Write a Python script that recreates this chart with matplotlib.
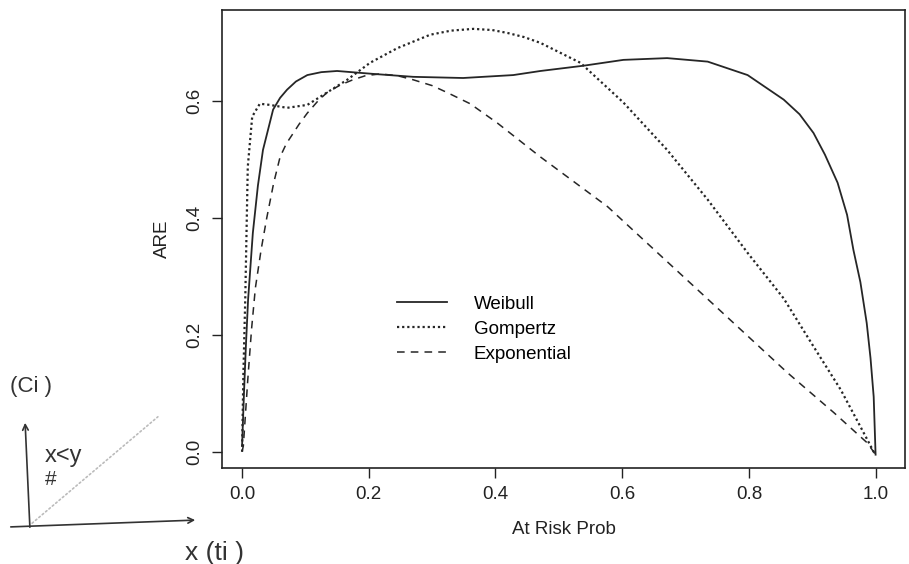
import matplotlib
matplotlib.use('Agg')
import matplotlib.pyplot as plt

plt.rcParams['font.family'] = ['Liberation Sans', 'DejaVu Sans']

# values
weibull_x = [0.0, 0.003, 0.006, 0.0095, 0.017, 0.025, 0.033, 0.049, 0.06, 0.071, 0.085, 0.103,
             0.125, 0.15, 0.207, 0.27, 0.349, 0.428, 0.471, 0.539, 0.602, 0.671, 0.735, 0.798,
             0.855, 0.88, 0.902, 0.92, 0.94, 0.955, 0.965, 0.976, 0.986, 0.992, 0.997, 1.0]
weibull_y = [0.01, 0.10, 0.18, 0.26, 0.374, 0.455, 0.516, 0.585, 0.605, 0.619, 0.633, 0.644,
             0.649, 0.651, 0.646, 0.641, 0.639, 0.644, 0.651, 0.660, 0.670, 0.673, 0.667, 0.644,
             0.602, 0.577, 0.545, 0.508, 0.46, 0.405, 0.345, 0.29, 0.22, 0.16, 0.094, -0.005]

gompertz_x = [0.0, 0.002, 0.005, 0.009, 0.016, 0.028, 0.044, 0.071, 0.103, 0.128, 0.166, 0.202,
              0.245, 0.297, 0.33, 0.365, 0.395, 0.419, 0.445, 0.471, 0.534, 0.602, 0.671, 0.735,
              0.798, 0.855, 0.902, 0.945, 0.976, 0.997, 1.0]
gompertz_y = [0.0, 0.13, 0.26, 0.487, 0.573, 0.595, 0.593, 0.588, 0.593, 0.61, 0.636, 0.665,
              0.69, 0.713, 0.720, 0.723, 0.721, 0.716, 0.709, 0.699, 0.665, 0.597, 0.516, 0.431,
              0.340, 0.262, 0.18, 0.106, 0.043, 0.0, -0.005]

expo_x = [0.0, 0.002, 0.009, 0.015, 0.021, 0.03, 0.039, 0.05, 0.06, 0.07, 0.081, 0.09, 0.103,
          0.12, 0.134, 0.155, 0.175, 0.195, 0.218, 0.245, 0.27, 0.3, 0.324, 0.36, 0.403, 0.471,
          0.577, 0.656, 0.724, 0.787, 0.861, 0.934, 0.987, 1.0]
expo_y = [0.0, 0.01, 0.123, 0.21, 0.28, 0.345, 0.40, 0.46, 0.504, 0.527, 0.545, 0.56, 0.579,
          0.60, 0.614, 0.627, 0.636, 0.643, 0.646, 0.643, 0.636, 0.626, 0.614, 0.595, 0.562, 0.504,
          0.419, 0.34, 0.272, 0.209, 0.135, 0.067, 0.015, -0.005]

labels = ['Weibull', 'Gompertz', 'Exponential']
xticks = [0.0, 0.2, 0.4, 0.6, 0.8, 1.0]
yticks = [0.0, 0.2, 0.4, 0.6]

line_col = '#262626'
H = 564  # figure height in pixels, for the margin notes

fig = plt.figure(figsize=(9.09, 5.64), dpi=100)
ax = fig.add_axes([0.244, 0.170, 0.752, 0.812])

ax.plot(weibull_x, weibull_y, color=line_col, lw=1.3, ls='-', label=labels[0])
ax.plot(gompertz_x, gompertz_y, color=line_col, lw=1.6, ls=(0, (1, 1.3)), label=labels[1])
ax.plot(expo_x, expo_y, color=line_col, lw=1.1, ls=(0, (5, 4)), label=labels[2])

ax.set_xlim(-0.032, 1.047)
ax.set_ylim(-0.028, 0.755)
ax.set_xticks(xticks)
ax.set_xticklabels([f'{v:.1f}' for v in xticks])
ax.set_yticks(yticks)
ax.set_yticklabels([f'{v:.1f}' for v in yticks], rotation=90, va='center')
ax.tick_params(direction='out', length=7, width=1, labelsize=13.5, colors='#222222', pad=6)
for sp in ax.spines.values():
    sp.set_linewidth(1.2)
    sp.set_color('#222222')

ax.set_xlabel('At Risk Prob', fontsize=13.5, color='#222222', labelpad=13)
ax.set_ylabel('ARE', fontsize=13.5, color='#222222', labelpad=11)

ax.legend(loc='upper left', bbox_to_anchor=(0.256, 0.377), frameon=False, fontsize=13.5,
          handlelength=2.7, handletextpad=1.4, labelspacing=0.42, borderpad=0, borderaxespad=0)

# handwritten notes in the left margin of the scan
hand = '#333333'
fig.text(10, H - 392, '(Ci )', transform=None, fontsize=16, color=hand)
fig.text(45, H - 462, 'x<y', transform=None, fontsize=17, color=hand)
fig.text(45, H - 485, '#', transform=None, fontsize=15, color=hand)
fig.text(185, H - 560, 'x (ti )', transform=None, fontsize=19, color=hand)
ax.annotate('', xy=(25, H - 420), xycoords='figure pixels', xytext=(30, H - 530),
            textcoords='figure pixels', arrowprops=dict(arrowstyle='->', color=hand, lw=1.2))
ax.annotate('', xy=(198, H - 520), xycoords='figure pixels', xytext=(8, H - 527),
            textcoords='figure pixels', arrowprops=dict(arrowstyle='->', color=hand, lw=1.2))
ax.annotate('', xy=(160, H - 415), xycoords='figure pixels', xytext=(30, H - 525),
            textcoords='figure pixels',
            arrowprops=dict(arrowstyle='-', color='#bbbbbb', lw=1.2, ls=':'))

fig.savefig('out.png', dpi=100)
